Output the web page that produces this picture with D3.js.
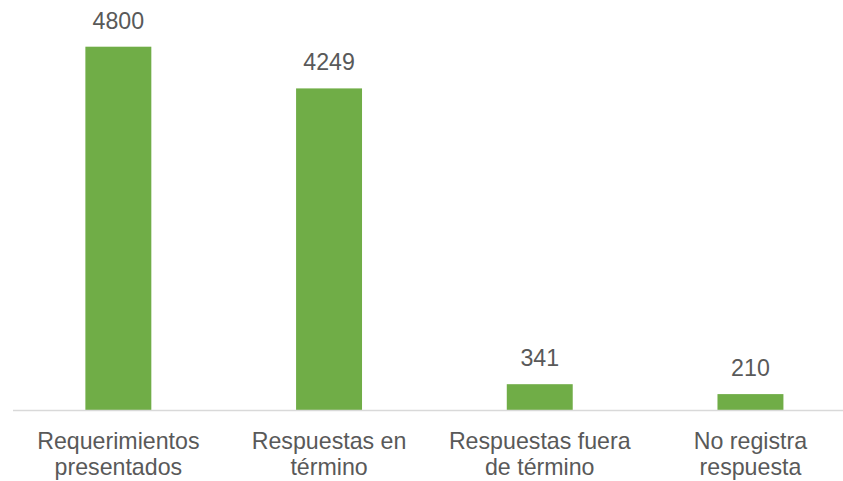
<!DOCTYPE html>
<html><head><meta charset="utf-8">
<script src="https://cdn.jsdelivr.net/npm/d3@7"></script>
<style>html,body{margin:0;padding:0;background:#fff;}svg{display:block;}</style>
</head><body>
<svg id="chart" width="843" height="481"></svg>
<script>
const categories = [["Requerimientos","presentados"],["Respuestas en","término"],["Respuestas fuera","de término"],["No registra","respuesta"]];
const values = [4800, 4249, 341, 210];

const svg = d3.select("#chart");
const W = 843, H = 481;
const x0 = 13, x1 = 855.8, baseY = 410;
const font = "'Liberation Sans', Arial, sans-serif";
const textColor = "#595959";

const x = d3.scaleBand().domain(d3.range(values.length)).range([x0, x1]).paddingInner(0.687).paddingOuter(0.3435);
const y = d3.scaleLinear().domain([0, 4800]).range([baseY, 46.7]);

svg.selectAll("rect.bar").data(values).enter().append("rect")
  .attr("class","bar")
  .attr("x",(d,i)=>x(i)).attr("width",x.bandwidth())
  .attr("y",d=>y(d)).attr("height",d=>baseY-y(d))
  .attr("fill","#70AD47");

svg.append("line").attr("x1",x0).attr("x2",W).attr("y1",baseY+0.5).attr("y2",baseY+0.5)
  .attr("stroke","#d9d9d9").attr("stroke-width",1.3);

svg.selectAll("text.val").data(values).enter().append("text")
  .attr("class","val")
  .attr("x",(d,i)=>x(i)+x.bandwidth()/2).attr("y",d=>y(d)-18)
  .attr("text-anchor","middle").attr("font-family",font).attr("font-size",23.2)
  .attr("fill",textColor).text(d=>d);

const g = svg.selectAll("text.cat").data(categories).enter().append("text")
  .attr("class","cat")
  .attr("text-anchor","middle").attr("font-family",font).attr("font-size",23.2)
  .attr("fill",textColor);
g.each(function(lines,i){
  const t = d3.select(this);
  lines.forEach((l,j)=>{
    t.append("tspan").attr("x",x(i)+x.bandwidth()/2).attr("y",449+j*26).text(l);
  });
});
</script>
</body></html>
